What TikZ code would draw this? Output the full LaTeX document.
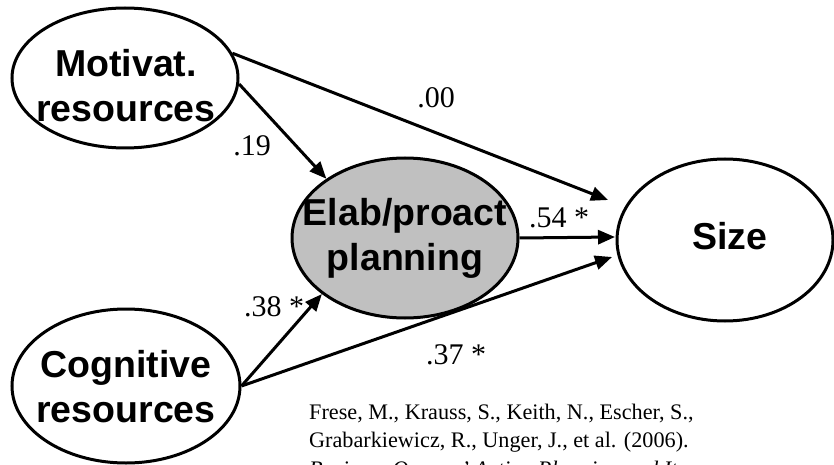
\documentclass[tikz,border=0pt]{standalone}
\usepackage{fontspec}
\setmainfont{Liberation Serif}
\newfontfamily\headfont{Liberation Sans}
\usetikzlibrary{shapes.geometric,arrows.meta}
\definecolor{planfill}{RGB}{192,192,192}
\tikzset{
  construct/.style={ellipse, draw=black, line width=3pt, inner sep=0pt},
  constructtext/.style={font=\headfont\bfseries\fontsize{37.5}{45}\selectfont, align=center, inner sep=0pt},
  path/.style={line width=3pt, -{Triangle[length=17pt,width=14pt]}},
  coef/.style={font=\fontsize{30}{34}\selectfont, inner sep=0pt},
  citation/.style={font=\fontsize{22.2}{28.5}\selectfont, align=left, inner sep=0pt, anchor=base west}
}
\begin{document}
\begin{tikzpicture}[x=1pt, y=-1pt]
  \useasboundingbox (0,0) rectangle (834,465);
  \clip (0,0) rectangle (834,465);

  % latent constructs
  \node[construct, minimum width=226pt, minimum height=140pt] (mot) at (125,78) {};
  \node[construct, minimum width=228pt, minimum height=154pt] (cog) at (126,386) {};
  \node[construct, fill=planfill, minimum width=226pt, minimum height=160pt] (elab) at (405,238) {};
  \node[construct, minimum width=216pt, minimum height=162pt] (size) at (725,240) {};

  \node[constructtext] (motlbl) at (126,86) {Motivat.\\resources};
  \node[constructtext] (coglbl) at (126,387) {Cognitive\\resources};
  \node[constructtext] (elablbl) at (405,238) {Elab/proact\\planning};
  \node[constructtext] (sizelbl) at (730,236) {Size};

  % arrow ends just short of the outcome
  \coordinate (sizeA) at (608,200);
  \coordinate (sizeB) at (615,237);
  \coordinate (sizeC) at (612,257);

  % structural paths
  \draw[path] (mot.13) -- (sizeA);
  \draw[path] (mot.-3) -- (elab.143);
  \draw[path] (elab.east) -- (sizeB);
  \draw[path] (cog.east) -- (elab.214);
  \draw[path] (cog.east) -- (sizeC);

  % path coefficients
  \node[coef] (c00) at (436,98) {.00};
  \node[coef] (c19) at (252,146) {.19};
  \node[coef] (c54) at (559,218) {.54 *};
  \node[coef] (c38) at (274,307) {.38 *};
  \node[coef] (c37) at (456,355) {.37 *};

  % source (anchored at the baseline of its last line)
  \node[citation] (src) at (309,476) {Frese, M., Krauss, S., Keith, N., Escher, S.,\\Grabarkiewicz, R., Unger, J., et al. (2006).\\\textit{Business Owners' Action Planning and Its}};
\end{tikzpicture}
\end{document}
